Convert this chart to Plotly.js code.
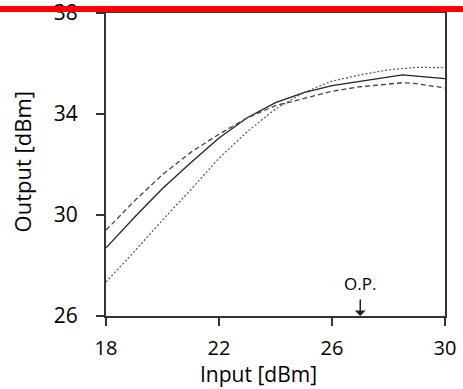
<!DOCTYPE html>
<html>
<head>
<meta charset="utf-8">
<script src="https://cdn.plot.ly/plotly-3.0.1.min.js"></script>
<style>html,body{margin:0;padding:0;background:#fff}#chart{width:463px;height:389px}</style>
</head>
<body>
<div id="chart"></div>
<script>
const xSolid  = [18, 19, 20, 21, 22, 23, 24, 25, 26, 27, 28, 28.5, 29, 30];
const ySolid  = [28.7, 29.9, 31.05, 32.07, 33.05, 33.85, 34.45, 34.85, 35.12, 35.3, 35.48, 35.55, 35.5, 35.4];
const xDashed = [18, 19, 20, 21, 22, 23, 24, 25, 26, 27, 28, 28.5, 29, 30];
const yDashed = [29.4, 30.55, 31.6, 32.48, 33.2, 33.85, 34.33, 34.63, 34.9, 35.08, 35.2, 35.24, 35.2, 35.03];
const xDotted = [18, 19, 20, 21, 22, 23, 24, 25, 26, 27, 28, 29, 30];
const yDotted = [27.35, 28.55, 29.8, 31.0, 32.25, 33.3, 34.2, 34.85, 35.3, 35.55, 35.75, 35.85, 35.83];
const xTicks = [18, 22, 26, 30];
const yTicks = [26, 30, 34, 38];
const opX = 27;
const opLabel = 'O.P.';
const xTitle = 'Input [dBm]';
const yTitle = 'Output [dBm]';

const font = 'Open Sans, Noto Sans, sans-serif';
const traces = [
  {x: xSolid, y: ySolid, mode: 'lines', line: {color: '#222', width: 1.3}},
  {x: xDashed, y: yDashed, mode: 'lines', line: {color: '#444', width: 1.3, dash: '5px,3px'}},
  {x: xDotted, y: yDotted, mode: 'lines', line: {color: '#555', width: 1.2, dash: '2px,2px'}}
];
const layout = {
  width: 463, height: 389,
  margin: {l: 106, r: 18, t: 13, b: 73},
  showlegend: false,
  paper_bgcolor: '#fff', plot_bgcolor: '#fff',
  font: {family: font, color: '#000', size: 20},
  xaxis: {
    range: [18, 30], tickvals: xTicks, ticktext: xTicks.map(String),
    showgrid: false, zeroline: false,
    showline: true, linecolor: '#333', linewidth: 2, mirror: true,
    ticks: 'outside', ticklen: 8, tickwidth: 2, tickcolor: '#333',
    ticklabelstandoff: 5, ticklabeloverflow: 'allow',
    tickfont: {family: font, size: 20, color: '#000'}
  },
  yaxis: {
    range: [26, 38], tickvals: yTicks, ticktext: yTicks.map(String),
    showgrid: false, zeroline: false,
    showline: true, linecolor: '#333', linewidth: 2, mirror: true,
    ticks: 'outside', ticklen: 8, tickwidth: 2, tickcolor: '#333',
    ticklabelstandoff: 14, ticklabeloverflow: 'allow',
    tickfont: {family: font, size: 21, color: '#000'}
  },
  annotations: [
    {x: 0.451, y: -0.191, xref: 'paper', yref: 'paper', text: xTitle, showarrow: false,
     xanchor: 'center', yanchor: 'middle', font: {family: font, size: 21, color: '#000'}},
    {x: -0.245, y: 0.51, xref: 'paper', yref: 'paper', text: yTitle, showarrow: false, textangle: -90,
     xanchor: 'center', yanchor: 'middle', font: {family: font, size: 22, color: '#000'}},
    {x: opX, y: 26, xref: 'x', yref: 'y', text: '', showarrow: true,
     ax: 0, ay: -18, arrowhead: 1, arrowsize: 1.2, arrowwidth: 1.5, arrowcolor: '#222'},
    {x: opX, y: 26, xref: 'x', yref: 'y', text: opLabel, showarrow: false,
     yshift: 33, font: {family: font, size: 17, color: '#000'}}
  ],
  shapes: [
    {type: 'rect', xref: 'paper', yref: 'paper', x0: -0.32, x1: 1.06, y0: 1.0033, y1: 1.0231,
     fillcolor: '#ff0000', line: {width: 0}, layer: 'above'}
  ]
};
Plotly.newPlot('chart', traces, layout, {displayModeBar: false, staticPlot: true});
</script>
</body>
</html>
